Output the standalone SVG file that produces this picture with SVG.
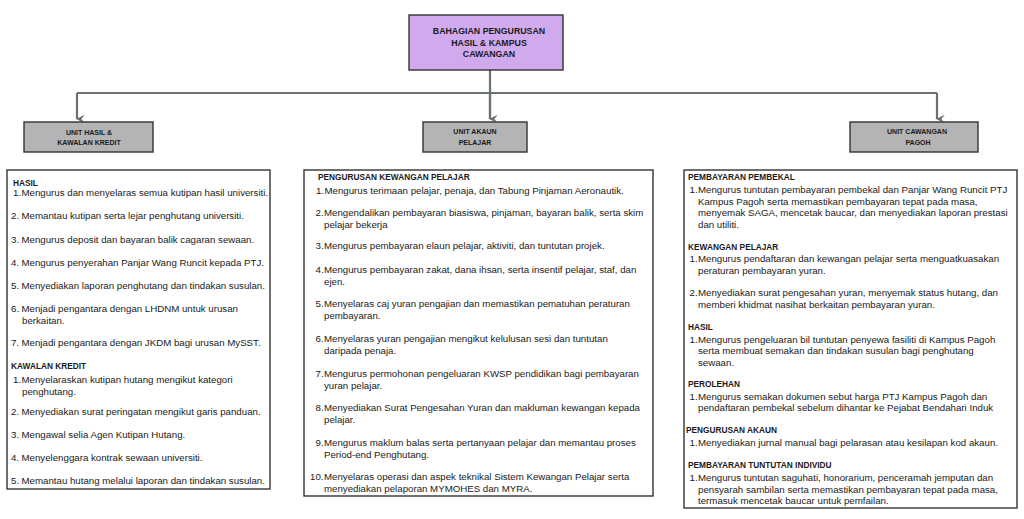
<svg xmlns="http://www.w3.org/2000/svg" width="1024" height="519" viewBox="0 0 1024 519">
<defs>
<marker id="arr" viewBox="0 0 10 10" refX="5" refY="9" markerWidth="4" markerHeight="4" orient="auto-start-reverse" markerUnits="strokeWidth">
<path d="M0,0 L5,10 L10,0 L5,4 Z" fill="#6b7070"/>
</marker>
<style>
.box{stroke:#333;stroke-width:1.4}
.top{fill:#d1aaee}
.unit{fill:#b4b4b4}
.panel{fill:#fff}
.conn{fill:none;stroke:#6b7070;stroke-width:2.2}
text{font-family:"Liberation Sans",Arial,sans-serif;fill:#1a1a1a}
.tt{font-size:8.8px;font-weight:bold;text-anchor:middle}
.ut{font-size:7px;font-weight:bold;text-anchor:middle}
.h{font-size:8.3px;font-weight:bold}
.b{font-size:9.7px}
</style>
</defs>
<rect width="1024" height="519" fill="#fff"/>

<g id="connectors">
<path class="conn" d="M490,70 V119"/>
<path class="conn" d="M77,93 H937"/>
<path class="conn" d="M77,93 V119" marker-end="url(#arr)"/>
<path class="conn" d="M490,93 V119" marker-end="url(#arr)"/>
<path class="conn" d="M937,93 V119" marker-end="url(#arr)"/>
</g>

<g id="bahagian">
<rect class="box top" x="409" y="15" width="154" height="55"/>
<text class="tt" x="489" y="34">BAHAGIAN PENGURUSAN</text>
<text class="tt" x="489" y="45.5">HASIL &amp; KAMPUS</text>
<text class="tt" x="489" y="57">CAWANGAN</text>
</g>

<g id="unit-hasil">
<rect class="box unit" x="24" y="122" width="129" height="30"/>
<text class="ut" x="89" y="134.5">UNIT HASIL &amp;</text>
<text class="ut" x="89" y="145">KAWALAN KREDIT</text>
</g>

<g id="unit-akaun">
<rect class="box unit" x="423" y="122" width="104" height="30"/>
<text class="ut" x="475" y="134">UNIT AKAUN</text>
<text class="ut" x="475" y="145">PELAJAR</text>
</g>

<g id="unit-cawangan">
<rect class="box unit" x="850" y="122" width="128" height="30"/>
<text class="ut" x="917" y="134">UNIT CAWANGAN</text>
<text class="ut" x="918" y="145">PAGOH</text>
</g>

<g id="panel-hasil">
<rect class="box panel" x="7" y="170" width="263" height="319"/>
<text class="h" x="13" y="186">HASIL</text>
<text class="b" y="196"><tspan x="13">1.</tspan><tspan x="21.5">Mengurus dan menyelaras semua kutipan hasil universiti.</tspan></text>
<text class="b" y="219"><tspan x="11">2.</tspan><tspan x="21.5">Memantau kutipan serta lejar penghutang universiti.</tspan></text>
<text class="b" y="243"><tspan x="11">3.</tspan><tspan x="21.5">Mengurus deposit dan bayaran balik cagaran sewaan.</tspan></text>
<text class="b" y="266"><tspan x="11">4.</tspan><tspan x="21.5">Mengurus penyerahan Panjar Wang Runcit kepada PTJ.</tspan></text>
<text class="b" y="289"><tspan x="11">5.</tspan><tspan x="21.5">Menyediakan laporan penghutang dan tindakan susulan.</tspan></text>
<text class="b" y="312"><tspan x="11">6.</tspan><tspan x="21.5">Menjadi pengantara dengan LHDNM untuk urusan</tspan></text>
<text class="b" x="22" y="324">berkaitan.</text>
<text class="b" y="346"><tspan x="11">7.</tspan><tspan x="21.5">Menjadi pengantara dengan JKDM bagi urusan MySST.</tspan></text>
<text class="h" x="11" y="369">KAWALAN KREDIT</text>
<text class="b" y="383"><tspan x="13">1.</tspan><tspan x="21.5">Menyelaraskan kutipan hutang mengikut kategori</tspan></text>
<text class="b" x="22" y="395">penghutang.</text>
<text class="b" y="415"><tspan x="11">2.</tspan><tspan x="21.5">Menyediakan surat peringatan mengikut garis panduan.</tspan></text>
<text class="b" y="438"><tspan x="11">3.</tspan><tspan x="21.5">Mengawal selia Agen Kutipan Hutang.</tspan></text>
<text class="b" y="461"><tspan x="11">4.</tspan><tspan x="21.5">Menyelenggara kontrak sewaan universiti.</tspan></text>
<text class="b" y="484"><tspan x="11">5.</tspan><tspan x="21.5">Memantau hutang melalui laporan dan tindakan susulan.</tspan></text>
</g>

<g id="panel-akaun">
<rect class="box panel" x="304" y="170" width="349" height="326"/>
<text class="h" x="318" y="180">PENGURUSAN KEWANGAN PELAJAR</text>
<text class="b" y="194"><tspan x="316">1.</tspan><tspan x="324.5">Mengurus terimaan pelajar, penaja, dan Tabung Pinjaman Aeronautik.</tspan></text>
<text class="b" y="216"><tspan x="315.5">2.</tspan><tspan x="324">Mengendalikan pembayaran biasiswa, pinjaman, bayaran balik, serta skim</tspan></text>
<text class="b" x="324" y="228">pelajar bekerja</text>
<text class="b" y="249"><tspan x="315.5">3.</tspan><tspan x="324">Mengurus pembayaran elaun pelajar, aktiviti, dan tuntutan projek.</tspan></text>
<text class="b" y="273"><tspan x="315.5">4.</tspan><tspan x="324">Mengurus pembayaran zakat, dana ihsan, serta insentif pelajar, staf, dan</tspan></text>
<text class="b" x="324" y="285">ejen.</text>
<text class="b" y="307"><tspan x="315.5">5.</tspan><tspan x="324">Menyelaras caj yuran pengajian dan memastikan pematuhan peraturan</tspan></text>
<text class="b" x="324" y="319">pembayaran.</text>
<text class="b" y="342"><tspan x="315.5">6.</tspan><tspan x="324">Menyelaras yuran pengajian mengikut kelulusan sesi dan tuntutan</tspan></text>
<text class="b" x="324" y="354">daripada penaja.</text>
<text class="b" y="377"><tspan x="315.5">7.</tspan><tspan x="324">Mengurus permohonan pengeluaran KWSP pendidikan bagi pembayaran</tspan></text>
<text class="b" x="324" y="389">yuran pelajar.</text>
<text class="b" y="411"><tspan x="315.5">8.</tspan><tspan x="324">Menyediakan Surat Pengesahan Yuran dan makluman kewangan kepada</tspan></text>
<text class="b" x="324" y="423">pelajar.</text>
<text class="b" y="446"><tspan x="315.5">9.</tspan><tspan x="324">Mengurus maklum balas serta pertanyaan pelajar dan memantau proses</tspan></text>
<text class="b" x="324" y="458">Period-end Penghutang.</text>
<text class="b" y="480"><tspan x="310">10.</tspan><tspan x="324">Menyelaras operasi dan aspek teknikal Sistem Kewangan Pelajar serta</tspan></text>
<text class="b" x="324" y="492">menyediakan pelaporan MYMOHES dan MYRA.</text>
</g>

<g id="panel-cawangan">
<rect class="box panel" x="684" y="170" width="333" height="338"/>
<text class="h" x="688" y="179.5">PEMBAYARAN PEMBEKAL</text>
<text class="b" y="192.5"><tspan x="689.5">1.</tspan><tspan x="698">Mengurus tuntutan pembayaran pembekal dan Panjar Wang Runcit PTJ</tspan></text>
<text class="b" x="698" y="204.5">Kampus Pagoh serta memastikan pembayaran tepat pada masa,</text>
<text class="b" x="698" y="216">menyemak SAGA, mencetak baucar, dan menyediakan laporan prestasi</text>
<text class="b" x="698" y="227.5">dan utiliti.</text>
<text class="h" x="688" y="250">KEWANGAN PELAJAR</text>
<text class="b" y="261.5"><tspan x="689.5">1.</tspan><tspan x="698">Mengurus pendaftaran dan kewangan pelajar serta menguatkuasakan</tspan></text>
<text class="b" x="698" y="273.5">peraturan pembayaran yuran.</text>
<text class="b" y="296"><tspan x="689.5">2.</tspan><tspan x="698">Menyediakan surat pengesahan yuran, menyemak status hutang, dan</tspan></text>
<text class="b" x="698" y="308">memberi khidmat nasihat berkaitan pembayaran yuran.</text>
<text class="h" x="688" y="330">HASIL</text>
<text class="b" y="342.5"><tspan x="689.5">1.</tspan><tspan x="698">Mengurus pengeluaran bil tuntutan penyewa fasiliti di Kampus Pagoh</tspan></text>
<text class="b" x="698" y="354">serta membuat semakan dan tindakan susulan bagi penghutang</text>
<text class="b" x="698" y="366">sewaan.</text>
<text class="h" x="688" y="387">PEROLEHAN</text>
<text class="b" y="399.5"><tspan x="689.5">1.</tspan><tspan x="698">Mengurus semakan dokumen sebut harga PTJ Kampus Pagoh dan</tspan></text>
<text class="b" x="698" y="411">pendaftaran pembekal sebelum dihantar ke Pejabat Bendahari Induk</text>
<text class="h" x="686" y="433">PENGURUSAN AKAUN</text>
<text class="b" y="446"><tspan x="689.5">1.</tspan><tspan x="698">Menyediakan jurnal manual bagi pelarasan atau kesilapan kod akaun.</tspan></text>
<text class="h" x="688" y="467.5">PEMBAYARAN TUNTUTAN INDIVIDU</text>
<text class="b" y="480.5"><tspan x="689.5">1.</tspan><tspan x="698">Mengurus tuntutan saguhati, honorarium, penceramah jemputan dan</tspan></text>
<text class="b" x="698" y="492.5">pensyarah sambilan serta memastikan pembayaran tepat pada masa,</text>
<text class="b" x="698" y="504">termasuk mencetak baucar untuk pemfailan.</text>
</g>
</svg>
